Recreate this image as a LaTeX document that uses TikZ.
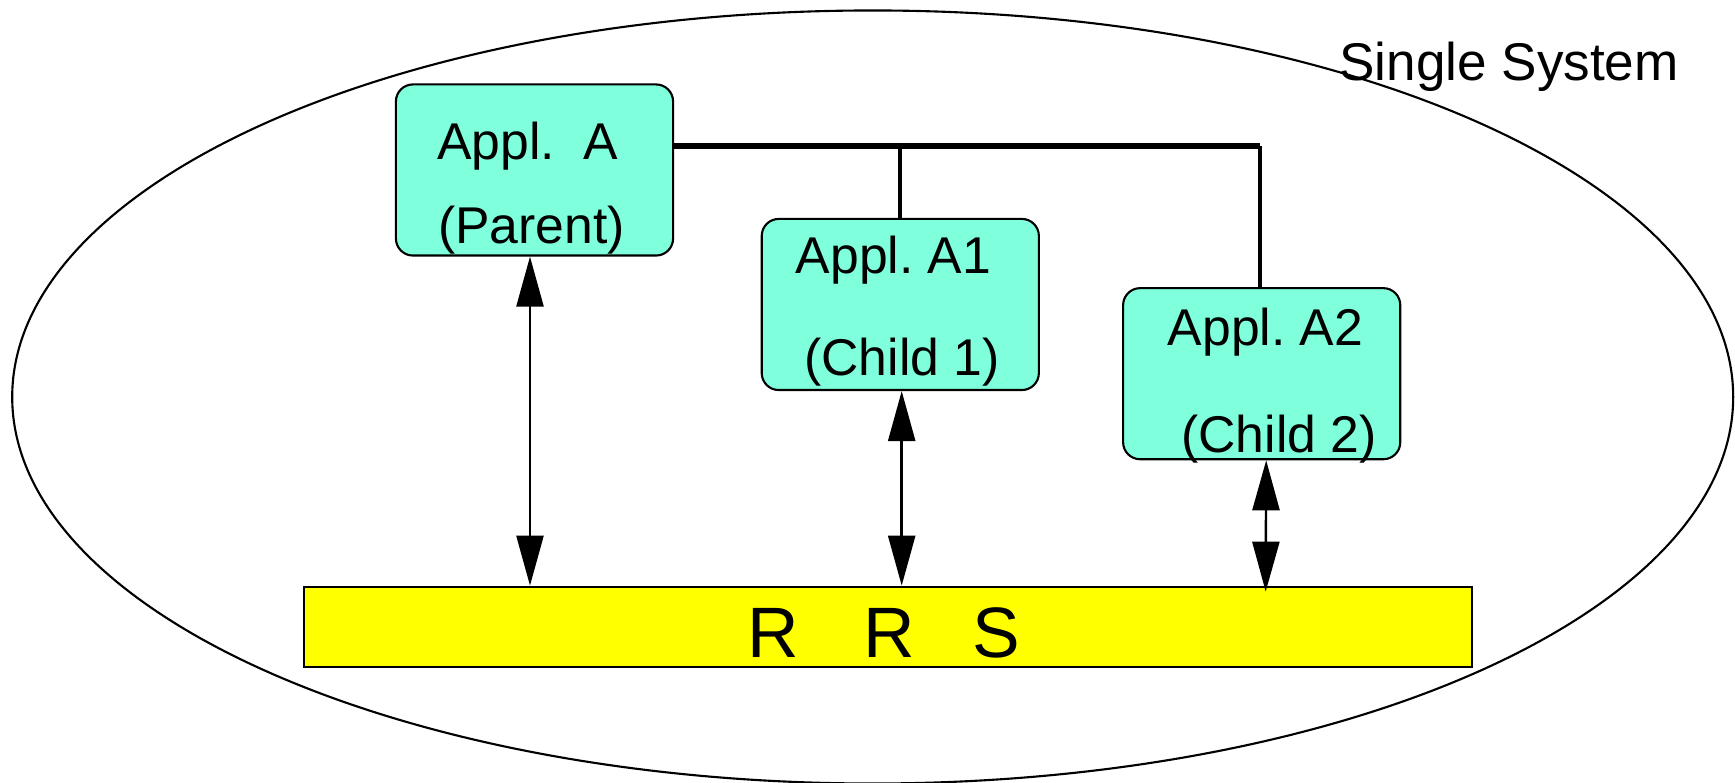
\documentclass[tikz,border=0pt]{standalone}
\usepackage{fontspec}
\setmainfont{Liberation Sans}
\usepackage{tikz}
\usetikzlibrary{arrows.meta}
\frenchspacing

\definecolor{applgreen}{RGB}{127,255,220}
\definecolor{rrsyellow}{RGB}{255,255,0}

\begin{document}
\begin{tikzpicture}[x=0.01cm,y=-0.01cm,
	appl/.style={shape=rectangle,rounded corners=0.17cm,draw=black,line width=0.6pt,fill=applgreen,minimum width=2.77cm,minimum height=1.71cm,inner sep=0pt},
	lbl/.style={anchor=base,inner sep=0pt,font=\fontsize{14.7pt}{16pt}\selectfont},
	twoway/.style={{Triangle[length=0.5cm,width=0.27cm]}-{Triangle[length=0.5cm,width=0.27cm]},line width=0.7pt}]
	\useasboundingbox (0,0) rectangle (1735,783);
	% the single system
	\draw[line width=0.6pt] (872.7,397) ellipse [x radius=8.6cm, y radius=3.863cm];
	\node[lbl,font=\fontsize{15.1pt}{17pt}\selectfont] (sys) at (1509,81) {Single System};

	\node[appl] (A) at (534.5,170) {};% parent
	\node[appl] (A1) at (900.3,304.5) {};% child 1
	\node[appl] (A2) at (1261.7,373.7) {};% child 2
	\node[shape=rectangle,draw=black,line width=0.6pt,fill=rrsyellow,minimum width=11.68cm,minimum height=0.8cm,inner sep=0pt] (rrs) at (888,626.7) {};

	\node[lbl] (At) at (528,160) {Appl.\ \ A};
	\node[lbl] (Ab) at (531.5,244) {(Parent)};
	\node[lbl] (A1t) at (893.5,274) {Appl. A1};
	\node[lbl] (A1b) at (902,376) {(Child 1)};
	\node[lbl] (A2t) at (1265.5,346) {Appl. A2};
	\node[lbl] (A2b) at (1279,453) {(Child 2)};
	\node[anchor=base,inner sep=0pt,font=\fontsize{20.3pt}{22pt}\selectfont] (rrst) at (884,658) {R\hspace{0.9em}R\hspace{0.8em}S};

	% parent -- children
	\coordinate (bus) at (1260,146);
	\draw[line width=1.9pt,line join=round] (A.east |- bus) -- (bus);
	\draw[line width=1.1pt] (bus) -- (bus |- A2.north);
	\draw[line width=1.2pt] (A1.north) -- (A1.north |- bus);

	% to RRS
	\path [twoway] ([xshift=-0.045cm]A.south) edge ([xshift=-0.045cm]A.south |- rrs.north);
	\path [twoway] ([xshift=0.014cm]A1.south) edge ([xshift=0.014cm]A1.south |- rrs.north);
	\path [twoway] ([xshift=0.045cm]A2.south) edge ([xshift=0.04cm,yshift=-0.06cm]A2.south |- rrs.north);
\end{tikzpicture}
\end{document}
